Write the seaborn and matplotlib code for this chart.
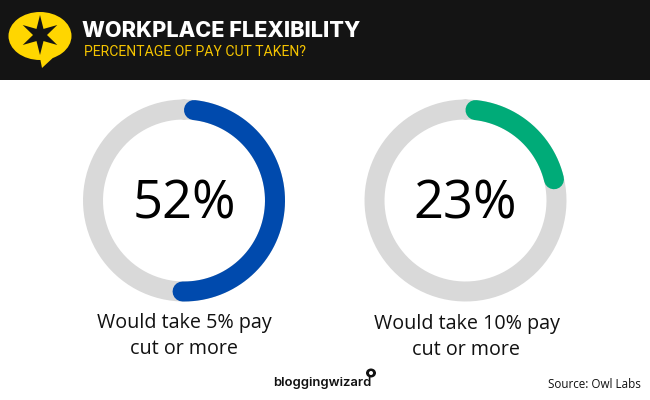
import numpy as np
import pandas as pd
import matplotlib
matplotlib.use('Agg')
import matplotlib.pyplot as plt
from matplotlib.patches import Ellipse, Polygon, Rectangle
import seaborn as sns

title = 'WORKPLACE FLEXIBILITY'
subtitle = 'PERCENTAGE OF PAY CUT TAKEN?'
values = [52, 23]
labels = ['Would take 5% pay\ncut or more', 'Would take 10% pay\ncut or more']
colors = ['#004aad', '#00ab78']
track_color = '#d9d9d9'
source = 'Source: Owl Labs'
brand = 'bloggingwizard'

W, H = 650, 400
RING_R = 91
RING_OUTER = 101
STROKE_PX = 20

sns.set_theme(style='white')
plt.rcParams['font.family'] = ['Open Sans', 'DejaVu Sans']

fig = plt.figure(figsize=(W / 100, H / 100), dpi=100, facecolor='white')

# overlay in pixel coordinates for header and text
bg = fig.add_axes([0, 0, 1, 1])
bg.set_xlim(0, W)
bg.set_ylim(H, 0)
bg.axis('off')
bg.add_patch(Rectangle((0, 0), W, 80, color='#141414', lw=0))

# speech bubble logo
bg.add_patch(Ellipse((40, 36), 63, 48, color='#ffd600', lw=0))
bg.add_patch(Polygon([[40, 58], [42, 68], [56, 55]], color='#ffd600', lw=0))
star = []
for i in range(12):
    r = 20 if i % 2 == 0 else 7
    a = np.radians(i * 30)
    star.append([40 + r * np.sin(a), 35 - r * np.cos(a)])
bg.add_patch(Polygon(star, color='#141414', lw=0))

bg.text(82, 31, title, color='white', fontsize=15.6, fontweight='heavy',
        family=['Inter', 'DejaVu Sans'], va='center')
bg.text(84.5, 52, subtitle, color='#f5c400', fontsize=10.1,
        family=['Roboto', 'DejaVu Sans'], va='center')


def draw_ring(cx, cy, value, color):
    left = (cx - RING_OUTER) / W
    bottom = 1 - (cy + RING_OUTER) / H
    ax = fig.add_axes([left, bottom, 2 * RING_OUTER / W, 2 * RING_OUTER / H],
                      projection='polar')
    ax.patch.set_alpha(0)
    ax.set_theta_zero_location('N')
    ax.set_theta_direction(-1)
    lw = STROKE_PX * 72 / 100

    full = pd.DataFrame({'theta': np.linspace(0, 2 * np.pi, 200), 'r': RING_R})
    sns.lineplot(data=full, x='theta', y='r', ax=ax, color=track_color, linewidth=lw,
                 sort=False, estimator=None)

    # the round caps are part of the percentage
    cap = (STROKE_PX / 2) / RING_R
    arc = pd.DataFrame({'theta': np.linspace(cap, value / 100 * 2 * np.pi - cap, 200),
                        'r': RING_R})
    sns.lineplot(data=arc, x='theta', y='r', ax=ax, color=color, linewidth=lw,
                 sort=False, estimator=None, solid_capstyle='round')

    ax.set_ylim(0, RING_OUTER)
    ax.set_xlabel('')
    ax.set_ylabel('')
    ax.set_xticks([])
    ax.set_yticks([])
    ax.grid(False)
    ax.spines['polar'].set_visible(False)
    for line in ax.lines:
        line.set_clip_on(False)
    bg.text(cx, cy + 4, f'{value}%', ha='center', va='center', fontsize=37.8, color='black',
            zorder=5)


centers = [(184, 200.5), (465.5, 200.5)]
label_x = [184, 466.5]
label_y = [336, 337]
for (cx, cy), v, c, lab, lx, ly in zip(centers, values, colors, labels, label_x, label_y):
    draw_ring(cx, cy, v, c)
    bg.text(lx, ly, lab, ha='center', va='center', fontsize=14.2, color='#111111',
            linespacing=1.42)

bg.text(273.5, 383, brand, fontsize=9.4, fontweight='semibold', color='#111111',
        family=['Inter', 'DejaVu Sans'], va='center')
bg.add_patch(Ellipse((371, 373), 10, 9, color='#111111', lw=0))
bg.add_patch(Ellipse((371, 373), 4, 4, color='white', lw=0))
bg.text(641, 384, source, fontsize=8.35, color='#111111', ha='right', va='center')

fig.savefig('out.png', dpi=100)
plt.close(fig)
